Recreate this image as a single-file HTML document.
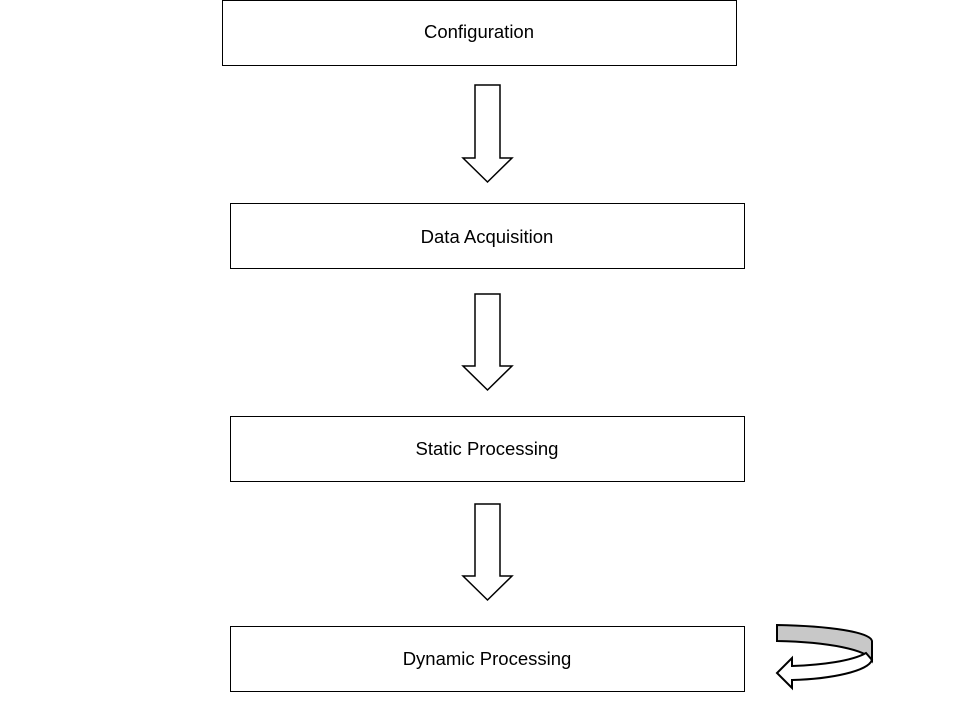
<!DOCTYPE html>
<html><head><style>body{margin:0;background:#fff}</style></head><body>
<svg width="960" height="720" xmlns="http://www.w3.org/2000/svg" style="display:block">
<g fill="#fff" stroke="#000" stroke-width="1">
<rect x="222.5" y="0.5" width="514" height="65"/>
<rect x="230.5" y="203.5" width="514" height="65"/>
<rect x="230.5" y="416.5" width="514" height="65"/>
<rect x="230.5" y="626.5" width="514" height="65"/>
</g>
<g fill="#fff" stroke="#000" stroke-width="1.5" stroke-linejoin="miter">
<path d="M475,85 H500 V158 H512 L487.5,182 L463,158 H475 Z"/>
<path d="M475,294 H500 V366 H512 L487.5,390 L463,366 H475 Z"/>
<path d="M475,504 H500 V576 H512 L487.5,600 L463,576 H475 Z"/>
</g>
<path d="M777,625 C830,626 870,632 872,641 L872,660 C866,650 830,642 777,641 Z" fill="#c8c8c8" stroke="#000" stroke-width="2"/>
<path d="M866,653 C852,661 822,665 792,666 L792,658 L777,673 L792,688 L792,680 C832,679 868,671 872,660 Z" fill="#fff" stroke="#000" stroke-width="2" stroke-linejoin="miter"/>
<g font-family="Liberation Sans, sans-serif" font-size="18.5" text-anchor="middle" fill="#000">
<text x="479" y="38">Configuration</text>
<text x="487" y="243">Data Acquisition</text>
<text x="487" y="455">Static Processing</text>
<text x="487" y="665">Dynamic Processing</text>
</g>
</svg>
</body></html>
